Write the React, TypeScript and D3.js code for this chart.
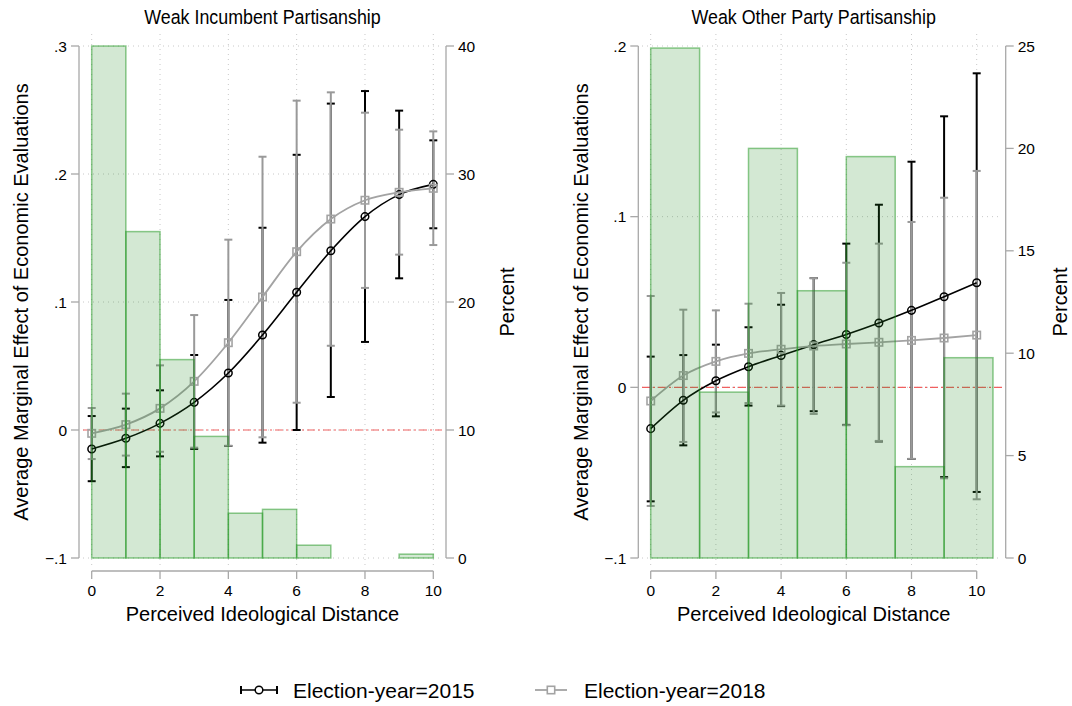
import React, { useEffect, useRef } from 'react';
import * as d3 from 'd3';

// x positions (perceived ideological distance)
const xVals = [0, 1, 2, 3, 4, 5, 6, 7, 8, 9, 10];

// Weak Incumbent Partisanship
const inc2015 = [-0.0148, -0.0065, 0.0052, 0.0216, 0.0445, 0.0742, 0.1076, 0.140, 0.1667, 0.1839, 0.1919];
const inc2015Lo = [-0.040, -0.029, -0.0206, -0.0148, -0.0125, -0.0099, 0.000, 0.0258, 0.0688, 0.1185, 0.1576];
const inc2015Hi = [0.0109, 0.0167, 0.031, 0.0586, 0.1016, 0.158, 0.215, 0.255, 0.2648, 0.2495, 0.2263];
const inc2018 = [-0.0026, 0.0042, 0.0169, 0.038, 0.0682, 0.1039, 0.1393, 0.1648, 0.1795, 0.1857, 0.1888];
const inc2018Lo = [-0.0227, -0.020, -0.017, -0.0138, -0.0123, -0.0057, 0.0213, 0.0658, 0.111, 0.137, 0.1445];
const inc2018Hi = [0.0172, 0.0284, 0.0505, 0.0898, 0.1487, 0.2135, 0.2573, 0.2638, 0.2479, 0.2346, 0.2333];
const incHist = [40, 25.5, 15.5, 9.5, 3.5, 3.8, 1.0, 0, 0, 0.3];
const incBinWidth = 1;

// Weak Other Party Partisanship
const oth2015 = [-0.0242, -0.0076, 0.0039, 0.0121, 0.0187, 0.025, 0.031, 0.0377, 0.0451, 0.0531, 0.0613];
const oth2015Lo = [-0.0668, -0.034, -0.017, -0.0107, -0.011, -0.014, -0.022, -0.0317, -0.042, -0.0526, -0.0613];
const oth2015Hi = [0.018, 0.0189, 0.025, 0.0352, 0.0484, 0.064, 0.0842, 0.107, 0.1322, 0.1588, 0.184];
const oth2018 = [-0.008, 0.0069, 0.0152, 0.0199, 0.0223, 0.0242, 0.0254, 0.0264, 0.0275, 0.0289, 0.0306];
const oth2018Lo = [-0.0695, -0.032, -0.0147, -0.0092, -0.0107, -0.0156, -0.0222, -0.0314, -0.0419, -0.0533, -0.0656];
const oth2018Hi = [0.0535, 0.0455, 0.0451, 0.049, 0.0553, 0.064, 0.073, 0.0842, 0.0969, 0.1111, 0.1268];
const othHist = [24.9, 8.1, 20.0, 13.05, 19.6, 4.46, 9.78];
const othBinWidth = 1.5;

const xTicks = [0, 2, 4, 6, 8, 10];
const incYTicks = [-0.1, 0, 0.1, 0.2, 0.3];
const incPctTicks = [0, 10, 20, 30, 40];
const othYTicks = [-0.1, 0, 0.1, 0.2];
const othPctTicks = [0, 5, 10, 15, 20, 25];

const FONT = '"Liberation Sans", Arial, sans-serif';
const BLACK = '#000';
const GRAY_LINE = '#a3a3a3';
const GRAY_CI = '#999';

interface Panel {
  title: string;
  x0: number; x1: number;         // pixel of x=0 and x=10
  plotL: number; plotR: number;   // grid extent
  axisL: number; axisR: number;   // y axis lines
  yDomain: [number, number];
  pctMax: number;
  yTicks: number[];
  pctTicks: number[];
  hist: number[];
  binWidth: number;
  s15: number[]; lo15: number[]; hi15: number[];
  s18: number[]; lo18: number[]; hi18: number[];
  yTitleX: number; pctTitleX: number;
}

const panels: Panel[] = [
  {
    title: 'Weak Incumbent Partisanship',
    x0: 91.7, x1: 433.3, plotL: 83, plotR: 442, axisL: 79, axisR: 446,
    yDomain: [-0.1, 0.3], pctMax: 40, yTicks: incYTicks, pctTicks: incPctTicks,
    hist: incHist, binWidth: incBinWidth,
    s15: inc2015, lo15: inc2015Lo, hi15: inc2015Hi,
    s18: inc2018, lo18: inc2018Lo, hi18: inc2018Hi,
    yTitleX: 21, pctTitleX: 507,
  },
  {
    title: 'Weak Other Party Partisanship',
    x0: 650.7, x1: 976.7, plotL: 642, plotR: 1002, axisL: 638.3, axisR: 1005.7,
    yDomain: [-0.1, 0.2], pctMax: 25, yTicks: othYTicks, pctTicks: othPctTicks,
    hist: othHist, binWidth: othBinWidth,
    s15: oth2015, lo15: oth2015Lo, hi15: oth2015Hi,
    s18: oth2018, lo18: oth2018Lo, hi18: oth2018Hi,
    yTitleX: 581, pctTitleX: 1060,
  },
];

const fmtY = (v: number) => {
  if (Math.abs(v) < 1e-9) return '0';
  return d3.format('.1f')(v).replace('0.', '.');
};

const App: React.FC = () => {
  const svgRef = useRef<SVGSVGElement>(null);

  useEffect(() => {
    if (!svgRef.current) return;
    const svg = d3.select(svgRef.current);
    svg.selectAll('*').remove();

    const top = 46, bottom = 558;

    panels.forEach(p => {
      const g = svg.append('g');
      const x = d3.scaleLinear().domain([0, 10]).range([p.x0, p.x1]);
      const y = d3.scaleLinear().domain(p.yDomain).range([bottom, top]);
      const yPct = d3.scaleLinear().domain([0, p.pctMax]).range([bottom, top]);

      // grid
      g.selectAll('.hgrid').data(p.yTicks).enter().append('line')
        .attr('x1', p.plotL).attr('x2', p.plotR)
        .attr('y1', d => y(d)).attr('y2', d => y(d))
        .style('stroke', '#c8c8c8').style('stroke-width', 1)
        .style('stroke-dasharray', '1,4');
      g.selectAll('.vgrid').data(xTicks).enter().append('line')
        .attr('x1', d => x(d)).attr('x2', d => x(d))
        .attr('y1', 34).attr('y2', 566)
        .style('stroke', '#c8c8c8').style('stroke-width', 1)
        .style('stroke-dasharray', '1,4');

      // zero reference line
      g.append('line')
        .attr('x1', p.plotL).attr('x2', p.plotR)
        .attr('y1', y(0)).attr('y2', y(0))
        .style('stroke', '#f06060').style('stroke-width', 1.1)
        .style('stroke-dasharray', '8,3,2,3');

      // confidence intervals
      const drawCI = (lo: number[], hi: number[], color: string) => {
        const ci = g.append('g');
        xVals.forEach((xv, i) => {
          ci.append('line')
            .attr('x1', x(xv)).attr('x2', x(xv))
            .attr('y1', y(lo[i])).attr('y2', y(hi[i]))
            .style('stroke', color).style('stroke-width', 2);
          [lo[i], hi[i]].forEach(v => {
            ci.append('line')
              .attr('x1', x(xv) - 4).attr('x2', x(xv) + 4)
              .attr('y1', y(v)).attr('y2', y(v))
              .style('stroke', color).style('stroke-width', 2);
          });
        });
      };
      drawCI(p.lo15, p.hi15, BLACK);
      drawCI(p.lo18, p.hi18, GRAY_CI);

      const line = d3.line<number>()
        .x((_, i) => x(xVals[i]))
        .y(d => y(d))
        .curve(d3.curveMonotoneX);

      // 2015 series
      g.append('path').attr('d', line(p.s15))
        .style('fill', 'none').style('stroke', BLACK).style('stroke-width', 1.6);
      g.selectAll('.m15').data(p.s15).enter().append('circle')
        .attr('cx', (_, i) => x(xVals[i])).attr('cy', d => y(d)).attr('r', 3.8)
        .style('fill', 'none').style('stroke', BLACK).style('stroke-width', 1.5);

      // 2018 series
      g.append('path').attr('d', line(p.s18))
        .style('fill', 'none').style('stroke', GRAY_LINE).style('stroke-width', 1.8);
      g.selectAll('.m18').data(p.s18).enter().append('rect')
        .attr('x', (_, i) => x(xVals[i]) - 3.7).attr('y', d => y(d) - 3.7)
        .attr('width', 7.4).attr('height', 7.4)
        .style('fill', 'none').style('stroke', GRAY_LINE).style('stroke-width', 1.6);

      // histogram (drawn over the lines, semi transparent)
      const bars = p.hist.map((h, i) => ({ h, i })).filter(d => d.h > 0);
      g.selectAll('.bar').data(bars)
        .enter().append('rect')
        .attr('x', d => x(d.i * p.binWidth))
        .attr('width', x(p.binWidth) - x(0))
        .attr('y', d => yPct(d.h))
        .attr('height', d => bottom - yPct(d.h))
        .style('fill', 'rgba(34,139,34,0.2)')
        .style('stroke', 'rgba(30,150,30,0.5)')
        .style('stroke-width', 1.5);

      // left y axis
      const axisColor = '#a8a8a8';
      g.append('line').attr('x1', p.axisL).attr('x2', p.axisL).attr('y1', top).attr('y2', bottom)
        .style('stroke', axisColor).style('stroke-width', 1.3);
      g.selectAll('.ytick').data(p.yTicks).enter().append('line')
        .attr('x1', p.axisL - 8).attr('x2', p.axisL).attr('y1', d => y(d)).attr('y2', d => y(d))
        .style('stroke', axisColor).style('stroke-width', 1.3);
      g.selectAll('.ylab').data(p.yTicks).enter().append('text')
        .attr('x', p.axisL - 12).attr('y', d => y(d)).attr('dy', '0.36em')
        .attr('text-anchor', 'end')
        .style('font-family', FONT).style('font-size', '15.5px').style('fill', '#000')
        .text(d => fmtY(d));

      // right y axis
      g.append('line').attr('x1', p.axisR).attr('x2', p.axisR).attr('y1', top).attr('y2', bottom)
        .style('stroke', axisColor).style('stroke-width', 1.3);
      g.selectAll('.ptick').data(p.pctTicks).enter().append('line')
        .attr('x1', p.axisR).attr('x2', p.axisR + 8).attr('y1', d => yPct(d)).attr('y2', d => yPct(d))
        .style('stroke', axisColor).style('stroke-width', 1.3);
      g.selectAll('.plab').data(p.pctTicks).enter().append('text')
        .attr('x', p.axisR + 12).attr('y', d => yPct(d)).attr('dy', '0.36em')
        .attr('text-anchor', 'start')
        .style('font-family', FONT).style('font-size', '15.5px').style('fill', '#000')
        .text(d => String(d));

      // x axis
      const axisY = 571;
      g.append('line').attr('x1', x(0)).attr('x2', x(10)).attr('y1', axisY).attr('y2', axisY)
        .style('stroke', axisColor).style('stroke-width', 1.3);
      g.selectAll('.xtick').data(xTicks).enter().append('line')
        .attr('x1', d => x(d)).attr('x2', d => x(d)).attr('y1', axisY).attr('y2', axisY + 8)
        .style('stroke', axisColor).style('stroke-width', 1.3);
      g.selectAll('.xlab').data(xTicks).enter().append('text')
        .attr('x', d => x(d)).attr('y', 596).attr('text-anchor', 'middle')
        .style('font-family', FONT).style('font-size', '15.5px').style('fill', '#000')
        .text(d => String(d));

      // titles (condensed look, like the original narrow font)
      const cx = (p.x0 + p.x1) / 2;
      g.append('text')
        .attr('transform', `translate(${cx},24) scale(0.87,1)`)
        .attr('text-anchor', 'middle')
        .style('font-family', FONT).style('font-size', '20.5px').style('fill', '#000')
        .text(p.title);
      g.append('text').attr('x', cx).attr('y', 621).attr('text-anchor', 'middle')
        .style('font-family', FONT).style('font-size', '20px').style('fill', '#000')
        .text('Perceived Ideological Distance');
      g.append('text')
        .attr('transform', `translate(${p.yTitleX},${(top + bottom) / 2}) rotate(-90)`)
        .attr('text-anchor', 'middle').attr('dy', '0.36em')
        .style('font-family', FONT).style('font-size', '20px').style('fill', '#000')
        .text('Average Marginal Effect of Economic Evaluations');
      g.append('text')
        .attr('transform', `translate(${p.pctTitleX},${(top + bottom) / 2}) rotate(-90)`)
        .attr('text-anchor', 'middle').attr('dy', '0.36em')
        .style('font-family', FONT).style('font-size', '20px').style('fill', '#000')
        .text('Percent');
    });

    // legend
    const lg = svg.append('g');
    const ly = 690;
    lg.append('line').attr('x1', 241).attr('x2', 277).attr('y1', ly).attr('y2', ly)
      .style('stroke', BLACK).style('stroke-width', 1.6);
    [241, 277].forEach(xx => {
      lg.append('line').attr('x1', xx).attr('x2', xx).attr('y1', ly - 4).attr('y2', ly + 4)
        .style('stroke', BLACK).style('stroke-width', 2);
    });
    lg.append('circle').attr('cx', 259).attr('cy', ly).attr('r', 3.8)
      .style('fill', '#fff').style('stroke', BLACK).style('stroke-width', 1.5);
    lg.append('text').attr('x', 293).attr('y', ly).attr('dy', '0.36em')
      .style('font-family', FONT).style('font-size', '21px').style('fill', '#000')
      .text('Election-year=2015');

    lg.append('line').attr('x1', 535).attr('x2', 567).attr('y1', ly).attr('y2', ly)
      .style('stroke', GRAY_LINE).style('stroke-width', 1.8);
    lg.append('rect').attr('x', 551 - 3.7).attr('y', ly - 3.7).attr('width', 7.4).attr('height', 7.4)
      .style('fill', '#fff').style('stroke', GRAY_LINE).style('stroke-width', 1.6);
    lg.append('text').attr('x', 584).attr('y', ly).attr('dy', '0.36em')
      .style('font-family', FONT).style('font-size', '21px').style('fill', '#000')
      .text('Election-year=2018');
  }, []);

  return (
    <div style={{ position: 'absolute', left: 0, top: 0 }}>
      <svg ref={svgRef} width={1072} height={706} style={{ display: 'block', background: '#fff' }}></svg>
    </div>
  );
};

export default App;
